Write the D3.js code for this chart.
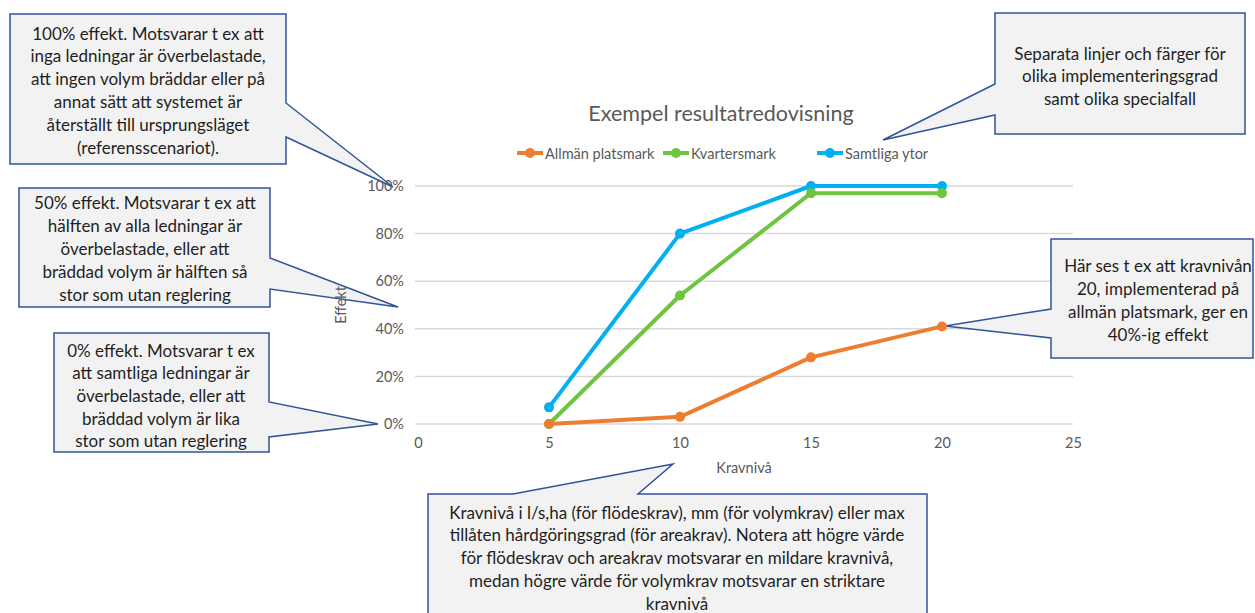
<!DOCTYPE html>
<html>
<head>
<meta charset="utf-8">
<script src="https://cdn.jsdelivr.net/npm/d3@7"></script>
<style>
  html, body { margin: 0; padding: 0; background: #fff; }
  svg { display: block; font-family: Lato, "Open Sans", sans-serif; }
</style>
</head>
<body>
<svg id="chart" width="1255" height="613"></svg>
<script>
// Kravnivå values on the x axis
const kravniva = [5, 10, 15, 20];

// Effekt per series (share of full effect)
const allmanPlatsmark = [0.00, 0.03, 0.28, 0.41];
const kvartersmark    = [0.00, 0.54, 0.97, 0.97];
const samtligaYtor    = [0.07, 0.80, 1.00, 1.00];

const seriesNames  = ["Allmän platsmark", "Kvartersmark", "Samtliga ytor"];
const seriesColors = ["#ED7D31", "#6FC540", "#00B0F0"];

const xTicks = [0, 5, 10, 15, 20, 25];
const yTicks = [0, 0.2, 0.4, 0.6, 0.8, 1.0];

const titleText = "Exempel resultatredovisning";
const xTitle = "Kravnivå";
const yTitle = "Effekt";

// Callout boxes: text lines, box, pointer tip
const callouts = [
  { lines: ["100% effekt. Motsvarar t ex att", "inga ledningar är överbelastade,", "att ingen volym bräddar eller på", "annat sätt att systemet är", "återställt till ursprungsläget", "(referensscenariot)."],
    box: [10, 14, 286, 164], side: "right", base: [103, 137], tip: [393, 187], cx: 148, y0: 33, dy: 22.8 },
  { lines: ["50% effekt. Motsvarar t ex att", "hälften av alla ledningar är", "överbelastade, eller att", "bräddad volym är hälften så", "stor som utan reglering"],
    box: [19, 188, 270, 307], side: "right", base: [258, 289], tip: [398, 307], cx: 145, y0: 202, dy: 23 },
  { lines: ["0% effekt. Motsvarar t ex", "att samtliga ledningar är", "överbelastade, eller att", "bräddad volym är lika", "stor som utan reglering"],
    box: [54, 333, 269, 452], side: "right", base: [402, 437], tip: [378, 424], cx: 161, y0: 350, dy: 22.7 },
  { lines: ["Separata linjer och färger för", "olika implementeringsgrad", "samt olika specialfall"],
    box: [995, 13, 1245, 134], side: "left", base: [84, 115], tip: [883, 140], cx: 1120, y0: 53, dy: 22.5 },
  { lines: ["Här ses t ex att kravnivån", "20, implementerad på", "allmän platsmark, ger en", "40%-ig effekt"],
    box: [1051, 239, 1253, 358], side: "left", base: [309, 338], tip: [945, 326], cx: 1158, y0: 265, dy: 23.3 },
  { lines: ["Kravnivå i l/s,ha (för flödeskrav), mm (för volymkrav) eller max", "tillåten hårdgöringsgrad (för areakrav). Notera att högre värde", "för flödeskrav och areakrav motsvarar en mildare kravnivå,", "medan högre värde för volymkrav motsvarar en striktare", "kravnivå"],
    box: [428, 494, 927, 620], side: "top", base: [513, 638], tip: [673, 464], cx: 677, y0: 512, dy: 22.8 }
];

const svg = d3.select("#chart");

const x = d3.scaleLinear().domain([0, 25]).range([418, 1073]);
const y = d3.scaleLinear().domain([0, 1]).range([424, 186]);

// Gridlines
svg.append("g")
  .selectAll("line")
  .data(yTicks)
  .join("line")
  .attr("x1", x(0) - 3).attr("x2", x(25))
  .attr("y1", d => y(d)).attr("y2", d => y(d))
  .attr("stroke", "#D9D9D9").attr("stroke-width", 1.5);

// Y axis labels
const yAxis = d3.axisLeft(y).tickValues(yTicks).tickFormat(d3.format(".0%")).tickSize(0).tickPadding(0);
svg.append("g")
  .attr("transform", `translate(${x(0) - 14},0)`)
  .call(yAxis)
  .call(g => g.select(".domain").remove())
  .call(g => g.selectAll("text").attr("fill", "#595959").style("font-size", "14.5px").style("font-family", "Lato, sans-serif"));

// X axis labels
const xAxis = d3.axisBottom(x).tickValues(xTicks).tickFormat(d3.format("d")).tickSize(0).tickPadding(0);
svg.append("g")
  .attr("transform", `translate(0,${y(0) + 14})`)
  .call(xAxis)
  .call(g => g.select(".domain").remove())
  .call(g => g.selectAll("text").attr("fill", "#595959").style("font-size", "14.5px").style("font-family", "Lato, sans-serif"));

// Title
svg.append("text")
  .attr("x", 721).attr("y", 113)
  .attr("text-anchor", "middle").attr("dominant-baseline", "central")
  .attr("fill", "#595959").style("font-size", "21.5px")
  .text(titleText);

// Axis titles
svg.append("text")
  .attr("x", 744).attr("y", 467)
  .attr("text-anchor", "middle").attr("dominant-baseline", "central")
  .attr("fill", "#595959").style("font-size", "14.5px")
  .text(xTitle);

// Callouts
const cg = svg.append("g");
callouts.forEach(c => {
  const [x0, y0, x1, y1] = c.box;
  let p;
  if (c.side === "right") {
    p = `M${x0},${y0}H${x1}V${c.base[0]}L${c.tip[0]},${c.tip[1]}L${x1},${c.base[1]}V${y1}H${x0}Z`;
  } else if (c.side === "left") {
    p = `M${x0},${y0}H${x1}V${y1}H${x0}V${c.base[1]}L${c.tip[0]},${c.tip[1]}L${x0},${c.base[0]}Z`;
  } else {
    p = `M${x0},${y0}H${c.base[0]}L${c.tip[0]},${c.tip[1]}L${c.base[1]},${y0}H${x1}V${y1}H${x0}Z`;
  }
  cg.append("path").attr("d", p)
    .attr("fill", "#F2F2F2").attr("stroke", "#2F5597").attr("stroke-width", 1.5)
    .attr("stroke-linejoin", "miter");
  cg.append("g").selectAll("text")
    .data(c.lines)
    .join("text")
    .attr("x", c.cx)
    .attr("y", (d, i) => c.y0 + i * c.dy)
    .attr("text-anchor", "middle").attr("dominant-baseline", "central")
    .attr("fill", "#1F1F1F").style("font-size", "17px")
    .text(d => d);
});

// Y axis title drawn above the callout pointers
svg.append("text")
  .attr("transform", `translate(340,305) rotate(-90)`)
  .attr("text-anchor", "middle").attr("dominant-baseline", "central")
  .attr("fill", "#595959").style("font-size", "14.5px")
  .text(yTitle);

// Series lines and markers
const seriesData = [allmanPlatsmark, kvartersmark, samtligaYtor];
const line = d3.line().x((d, i) => x(kravniva[i])).y(d => y(d));
// draw order: blue, green, orange on top
[2, 1, 0].forEach(s => {
  const g = svg.append("g");
  g.append("path")
    .datum(seriesData[s])
    .attr("d", line)
    .attr("fill", "none").attr("stroke", seriesColors[s])
    .attr("stroke-width", 4).attr("stroke-linejoin", "round").attr("stroke-linecap", "round");
  g.selectAll("circle")
    .data(seriesData[s])
    .join("circle")
    .attr("cx", (d, i) => x(kravniva[i])).attr("cy", d => y(d))
    .attr("r", 5).attr("fill", seriesColors[s]);
});

// Legend
const legendX = [517, 663, 817];
const lg = svg.append("g");
seriesNames.forEach((name, i) => {
  const lx = legendX[i], ly = 153;
  lg.append("line").attr("x1", lx).attr("x2", lx + 26).attr("y1", ly).attr("y2", ly)
    .attr("stroke", seriesColors[i]).attr("stroke-width", 4);
  lg.append("circle").attr("cx", lx + 13).attr("cy", ly).attr("r", 5).attr("fill", seriesColors[i]);
  lg.append("text").attr("x", lx + 28).attr("y", ly)
    .attr("dominant-baseline", "central")
    .attr("fill", "#595959").style("font-size", "14.5px")
    .text(name);
});
</script>
</body>
</html>
